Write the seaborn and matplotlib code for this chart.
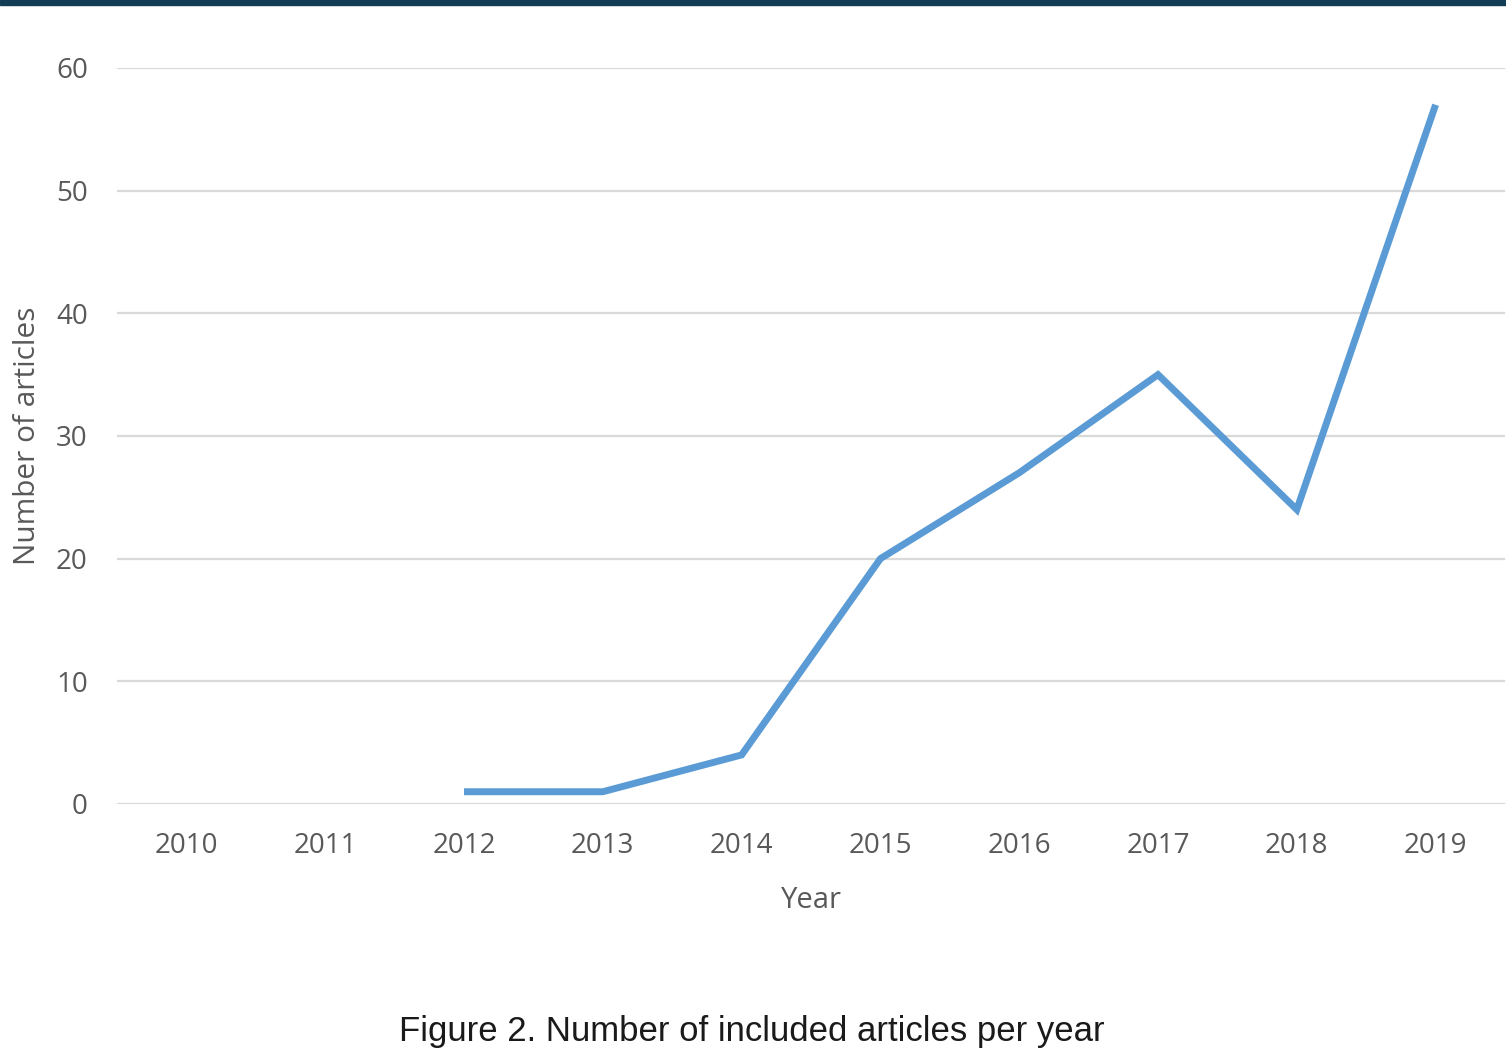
import matplotlib
matplotlib.use("Agg")
import matplotlib.pyplot as plt
import seaborn as sns
import pandas as pd
from matplotlib.patches import Rectangle

years = ["2010", "2011", "2012", "2013", "2014", "2015", "2016", "2017", "2018", "2019"]
articles = [None, None, 1, 1, 4, 20, 27, 35, 24, 57]
y_ticks = [0, 10, 20, 30, 40, 50, 60]

df = pd.DataFrame({"Year": years, "Articles": articles})
df["Articles"] = df["Articles"].astype(float)

sns.set_theme(style="white")
plt.rcParams["font.family"] = ["Open Sans", "DejaVu Sans"]

fig = plt.figure(figsize=(15.06, 10.5), dpi=100)
ax = fig.add_axes([117 / 1506, 1 - 804 / 1050, (1505 - 117) / 1506, (804 - 68) / 1050])

ax.set_xlim(-0.5, 9.5)
ax.set_ylim(0, 60)
ax.set_yticks(y_ticks)
for t in y_ticks:
    ax.axhline(t, color="#d9d9d9", lw=1.6, zorder=0)

sns.lineplot(data=df, x="Year", y="Articles", ax=ax, color="#5b9bd5",
             linewidth=5.0, solid_joinstyle="miter", solid_capstyle="butt",
             sort=False, zorder=3)

for s in ax.spines.values():
    s.set_visible(False)
ax.tick_params(axis="both", length=0, labelsize=20, colors="#595959")
ax.tick_params(axis="x", pad=20)
ax.tick_params(axis="y", pad=21)
ax.set_xlabel("Year", fontsize=21, color="#595959", labelpad=19)
ax.set_ylabel("Number of articles", fontsize=21.5, color="#595959", labelpad=10)
ax.set_facecolor("white")

fig.patches.append(Rectangle((0, 1 - 5 / 1050), 1, 5 / 1050, transform=fig.transFigure,
                             color="#133d55", zorder=10))

fig.text(752 / 1506, 1 - 1031 / 1050, "Figure 2. Number of included articles per year",
         ha="center", va="center", fontsize=25, color="#1a1a1a",
         family=["Liberation Sans", "DejaVu Sans"])

fig.savefig("out.png", dpi=100, facecolor="white")
